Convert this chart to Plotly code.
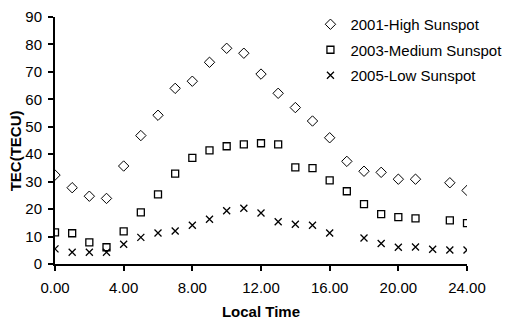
import plotly.graph_objects as go

# Local time hours for each series (some hours have no reading)
hours_high = [0, 1, 2, 3, 4, 5, 6, 7, 8, 9, 10, 11, 12, 13, 14, 15, 16, 17, 18, 19, 20, 21, 23, 24]
tec_high = [32.4, 27.8, 24.7, 23.9, 35.7, 46.8, 54.2, 64.0, 66.6, 73.5, 78.6, 76.8,
            69.2, 62.2, 57.0, 52.1, 46.0, 37.4, 33.8, 33.4, 30.9, 30.9, 29.6, 26.8]

hours_medium = [0, 1, 2, 3, 4, 5, 6, 7, 8, 9, 10, 11, 12, 13, 14, 15, 16, 17, 18, 19, 20, 21, 23, 24]
tec_medium = [11.5, 11.2, 7.9, 6.1, 11.9, 18.8, 25.4, 32.9, 38.7, 41.4, 42.9, 43.6,
              44.0, 43.6, 35.2, 34.9, 30.5, 26.5, 21.8, 18.2, 17.1, 16.6, 15.9, 14.9]

hours_low = [0, 1, 2, 3, 4, 5, 6, 7, 8, 9, 10, 11, 12, 13, 14, 15, 16, 18, 19, 20, 21, 22, 23, 24]
tec_low = [5.5, 4.3, 4.3, 4.3, 7.2, 9.7, 11.3, 12.0, 14.1, 16.3, 19.4, 20.3,
           18.6, 15.4, 14.5, 14.1, 11.3, 9.5, 7.5, 6.1, 6.2, 5.4, 5.1, 5.1]

x_ticks = [0, 4, 8, 12, 16, 20, 24]
x_ticktext = ["0.00", "4.00", "8.00", "12.00", "16.00", "20.00", "24.00"]

fig = go.Figure()
fig.add_trace(go.Scatter(x=hours_high, y=tec_high, mode="markers", name="2001-High Sunspot",
                         legendgroup="high",
                         marker=dict(symbol="diamond-open", size=8, color="black", line=dict(width=1))))
fig.add_trace(go.Scatter(x=hours_medium, y=tec_medium, mode="markers", name="2003-Medium Sunspot",
                         legendgroup="medium",
                         marker=dict(symbol="square-open", size=7, color="black", line=dict(width=1.3))))
fig.add_trace(go.Scatter(x=hours_low, y=tec_low, mode="markers", name="2005-Low Sunspot",
                         legendgroup="low",
                         marker=dict(symbol="x-thin-open", size=7, color="black", line=dict(width=1.3))))

# the page body adds an 8px offset, so the figure is 8px smaller each way;
# top margin 0 lets the legend sit above the y axis, the domain keeps the gap above 90
fig.update_layout(
    width=504, height=312,
    margin=dict(l=47, r=45, t=0, b=56),
    plot_bgcolor="white", paper_bgcolor="white",
    font=dict(family="Liberation Sans, Arial, sans-serif", size=15, color="black"),
    showlegend=True,
    legend=dict(x=0.62, y=1.0, xanchor="left", yanchor="top",
                bgcolor="rgba(0,0,0,0)", font=dict(size=15), tracegroupgap=3,
                itemwidth=30),
    xaxis=dict(range=[0, 24], tickvals=x_ticks, ticktext=x_ticktext, automargin=False,
               showline=True, linecolor="black", linewidth=2, showgrid=False, zeroline=False,
               ticks="outside", ticklen=5, tickwidth=2, tickcolor="black", tickfont=dict(size=15),
               ticklabelstandoff=4,
               title=dict(text="<b>Local Time</b>", font=dict(size=15), standoff=18)),
    yaxis=dict(range=[0, 90], dtick=10, automargin=False, domain=[0, 247 / 256],
               showline=True, linecolor="black", linewidth=2, showgrid=False, zeroline=False,
               ticks="outside", ticklen=5, tickwidth=2, tickcolor="black", tickfont=dict(size=15),
               ticklabelstandoff=3),
)

# y axis title placed by hand so it clears the tick labels
fig.add_annotation(text="<b>TEC(TECU)</b>", textangle=-90, showarrow=False,
                   xref="paper", yref="paper", x=0, y=0.44, xanchor="center", yanchor="middle",
                   xshift=-40, font=dict(size=15, color="black"))

fig.write_html("out.html")
